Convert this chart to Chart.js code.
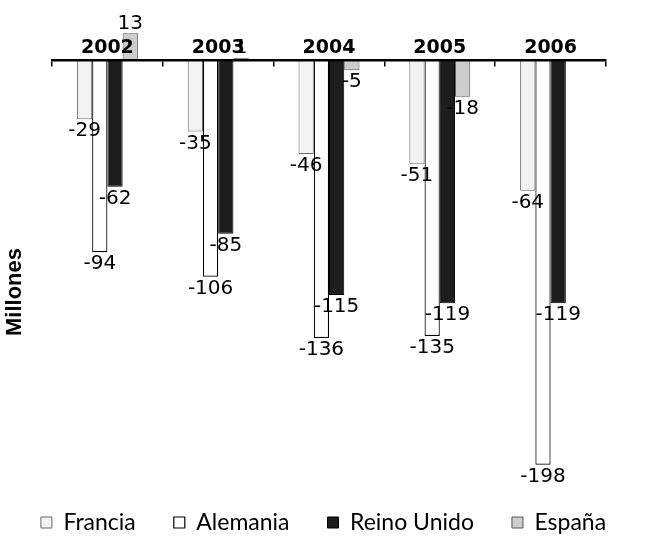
<!DOCTYPE html>
<html>
<head>
<meta charset="utf-8">
<script src="https://cdn.jsdelivr.net/npm/chart.js@4.4.1/dist/chart.umd.min.js"></script>
<style>
  html, body { margin: 0; padding: 0; background: #ffffff; }
  #wrap { width: 647px; height: 537px; position: relative; }
</style>
</head>
<body>
<div id="wrap"><canvas id="c" width="647" height="537"></canvas></div>
<script>
// Saldo por año (millones)
const categories = ['2002', '2003', '2004', '2005', '2006'];
const francia    = [-29, -35, -46, -51, -64];
const alemania   = [-94, -106, -136, -135, -198];
const reinoUnido = [-62, -85, -115, -119, -119];
const espana     = [13, 1, -5, -18, null];
const seriesNames = ['Francia', 'Alemania', 'Reino Unido', 'España'];
const axisTitle = 'Millones';

// Value printed just beyond the end of each bar
const valueLabels = {
  id: 'valueLabels',
  afterDatasetsDraw(chart) {
    const ctx = chart.ctx;
    ctx.save();
    ctx.font = '20px "DejaVu Sans"';
    ctx.fillStyle = '#000';
    ctx.textAlign = 'center';
    ctx.textBaseline = 'middle';
    chart.data.datasets.forEach((ds, i) => {
      chart.getDatasetMeta(i).data.forEach((bar, j) => {
        const v = ds.data[j];
        if (v === null || v === undefined) return;
        const y = v < 0 ? bar.y + 12 : bar.y - 10;
        ctx.fillText(String(v), bar.x, y);
      });
    });
    ctx.restore();
  }
};

// Rotated title at the left of the plot
const sideTitle = {
  id: 'sideTitle',
  afterDraw(chart) {
    const {ctx, chartArea} = chart;
    ctx.save();
    ctx.translate(chartArea.left - 37, (chartArea.top + chartArea.bottom) / 2 + 46);
    ctx.rotate(-Math.PI / 2);
    ctx.font = 'bold 22px "Liberation Sans"';
    ctx.fillStyle = '#000';
    ctx.textAlign = 'center';
    ctx.textBaseline = 'middle';
    ctx.fillText(axisTitle, 0, 0);
    ctx.restore();
  }
};

new Chart(document.getElementById('c'), {
  type: 'bar',
  data: {
    labels: categories,
    datasets: [
      { label: seriesNames[0], data: francia,    backgroundColor: '#f3f3f3', borderColor: '#6a6a6a', borderWidth: 1 },
      { label: seriesNames[1], data: alemania,   backgroundColor: '#ffffff', borderColor: '#000000', borderWidth: 1.2 },
      { label: seriesNames[2], data: reinoUnido, backgroundColor: '#1d1d1d', borderColor: '#000000', borderWidth: 1 },
      { label: seriesNames[3], data: espana,     backgroundColor: '#cdcdcd', borderColor: '#555555', borderWidth: 1 }
    ]
  },
  options: {
    responsive: false,
    animation: false,
    categoryPercentage: 0.55,
    barPercentage: 1.0,
    layout: { padding: { left: 0, right: 0, top: 19, bottom: -7 } },
    plugins: {
      tooltip: { enabled: false },
      legend: {
        position: 'bottom',
        labels: {
          font: { family: 'Lato', size: 23 },
          color: '#000',
          boxWidth: 11,
          boxHeight: 11,
          padding: 38
        }
      }
    },
    scales: {
      x: {
        position: { y: 0 },
        offset: true,
        grid: {
          display: true,
          offset: true,
          drawOnChartArea: false,
          drawTicks: true,
          tickLength: 5,
          color: '#000',
          lineWidth: 1.5
        },
        border: { display: true, color: '#000', width: 2.5, z: 1 },
        ticks: {
          z: 1,
          font: { family: 'DejaVu Sans', size: 19, weight: 'bold' },
          color: '#000',
          padding: -28,
          maxRotation: 0,
          autoSkip: false
        }
      },
      y: {
        position: 'left',
        min: -202,
        max: 20,
        ticks: { display: false },
        grid: { display: false },
        border: { display: false },
        afterFit(scale) { scale.width = 52; }
      },
      yRight: {
        type: 'linear',
        position: 'right',
        ticks: { display: false },
        grid: { display: false },
        border: { display: false },
        afterFit(scale) { scale.width = 41; }
      }
    }
  },
  plugins: [valueLabels, sideTitle]
});
</script>
</body>
</html>
